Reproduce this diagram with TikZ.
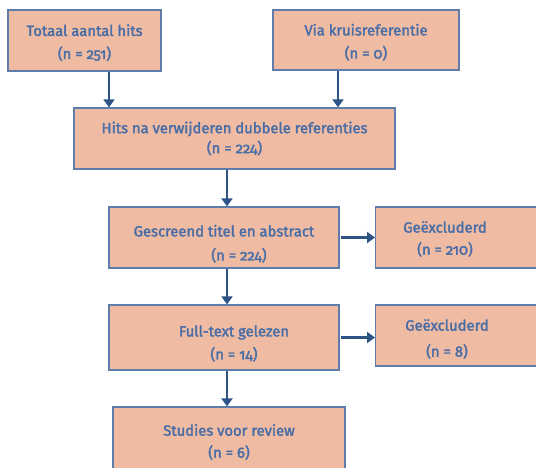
\documentclass[tikz,border=0pt]{standalone}
\usepackage{fontspec}
\setmainfont{Fira Sans}[Numbers=OldStyle, BoldFont={Fira Sans}, BoldFeatures={FakeBold=2.2}]
\usetikzlibrary{arrows.meta}
\definecolor{boxfill}{HTML}{EFBCA3}
\definecolor{boxline}{HTML}{5E7DAA}
\definecolor{txtblue}{HTML}{4A6DA6}
\definecolor{arrblue}{HTML}{2E5385}
\begin{document}
\begin{tikzpicture}[x=1pt,y=-1pt,
  box/.style={draw=boxline, line width=1.3pt, fill=boxfill, inner sep=0pt, align=center,
    text=txtblue, font=\fontsize{14.8}{22}\selectfont\bfseries},
  lbl/.style={inner sep=0pt, align=center, text=txtblue, font=\fontsize{14.8}{22}\selectfont\bfseries},
  arr/.style={draw=arrblue, line width=2.2pt, -{Triangle[width=11pt,length=8pt]}}]
\useasboundingbox (0,0) rectangle (536,467);
\node[box, minimum width=153pt, minimum height=61pt] (b1) at (84.5,40.5) {\rule{0pt}{16pt}Totaal aantal hits\\[1pt](n = 251)};
\node[box, minimum width=186pt, minimum height=60pt] (b2) at (366,40) {\rule{0pt}{16pt}Via kruisreferentie\\[1pt](n = 0)};
\node[box, minimum width=321pt, minimum height=61pt] (b3) at (234.5,138.5) {Hits na verwijderen dubbele referenties\\[-2pt](n = 224)};
\node[box, minimum width=230pt, minimum height=61pt] (b4) at (224,237.5) {\rule{0pt}{24pt}Gescreend titel en abstract\\[2pt]\hspace*{30pt}(n = 224)};
\node[box, minimum width=200pt, minimum height=61pt, anchor=west] (b5) at (375,237.5) {};
\node[lbl] (b5t) at (445,239) {Geëxcluderd\\(n = 210)};
\node[box, minimum width=230pt, minimum height=65pt] (b6) at (224,337.5) {\rule{0pt}{23pt}\hspace*{20pt}Full-text gelezen\\[1pt]\hspace*{20pt}(n = 14)};
\node[box, minimum width=200pt, minimum height=61pt, anchor=west] (b7) at (375,335.5) {};
\node[lbl] (b7t) at (447,339) {Geëxcluderd\\[4pt](n = 8)};
\node[box, minimum width=232pt, minimum height=70pt] (b8) at (229,442) {Studies voor review\\(n = 6)};
\draw[arr] ([xshift=24.5pt]b1.south) -- ([xshift=24.5pt]b1.south |- b3.north);
\draw[arr] ([xshift=-28pt]b2.south) -- ([xshift=-28pt]b2.south |- b3.north);
\draw[arr] ([xshift=3pt]b4.north |- b3.south) -- ([xshift=3pt]b4.north);
\draw[arr] ([xshift=1.5pt]b4.east) -- (b5.west);
\draw[arr] ([xshift=3pt]b6.north |- b4.south) -- ([xshift=3pt]b6.north);
\draw[arr] ([xshift=1.5pt]b6.east) -- (b6.east -| b7.west);
\draw[arr] ([xshift=-2pt]b8.north |- b6.south) -- ([xshift=-2pt]b8.north);
\end{tikzpicture}
\end{document}
